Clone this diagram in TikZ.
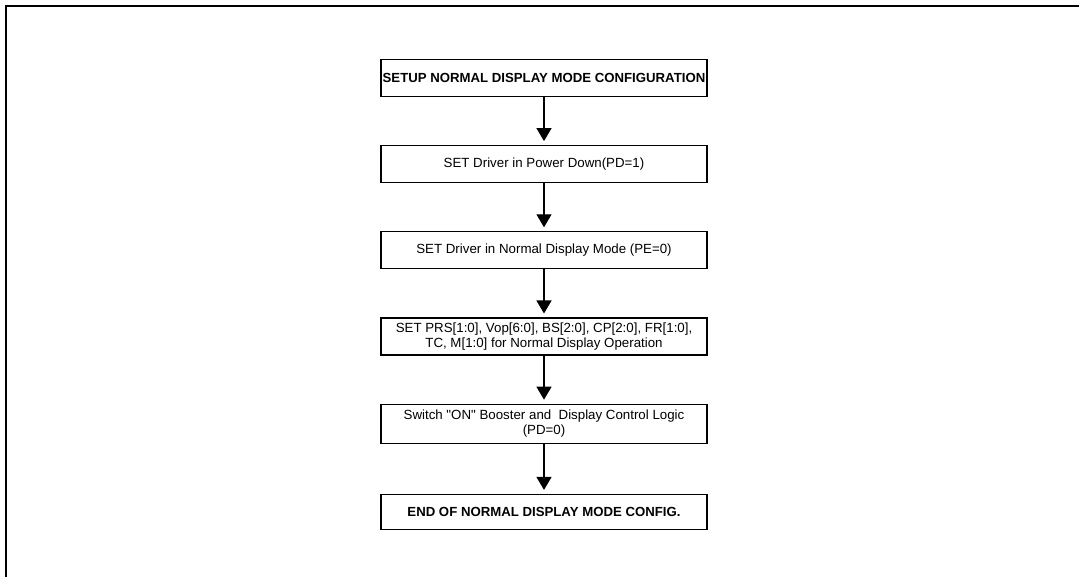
\documentclass[tikz,border=0pt]{standalone}
\usepackage{fontspec}
\setmainfont{Liberation Sans}
\usepackage{tikz}
\usetikzlibrary{arrows.meta,positioning}

\begin{document}
\begin{tikzpicture}[x=1pt,y=-1pt,>={Triangle[width=15pt,length=13pt]},
 line cap=butt,line join=miter,node distance=48pt,
 flowbox/.style={draw,line width=1.2pt,minimum width=326pt,minimum height=37pt,
  inner sep=0pt,align=center,font=\fontsize{13.3}{15}\selectfont},
 titlebox/.style={flowbox,font=\fontsize{13.2}{15}\selectfont\bfseries},
 flowarrow/.style={->,line width=1.2pt,shorten >=4pt}]
 \useasboundingbox (0,0) rectangle (1080,577);
 % outer frame
 \draw[line width=2.2pt] (6,577) -- (6,6) -- (1079,6);
 \node[titlebox] (setup) at (544,78) {SETUP NORMAL DISPLAY MODE CONFIGURATION};
 \node[flowbox,below=of setup] (pwrdown) {SET Driver in Power Down(PD=1)};
 \node[flowbox,below=of pwrdown] (normmode) {SET Driver in Normal Display Mode (PE=0)};
 \node[flowbox,below=of normmode] (params)
  {SET PRS[1:0], Vop[6:0], BS[2:0], CP[2:0], FR[1:0],\\
   TC, M[1:0] for Normal Display Operation};
 \node[flowbox,minimum height=39pt,below=of params] (booster)
  {Switch \textquotedbl ON\textquotedbl{} Booster and\ \ Display Control Logic\\(PD=0)};
 \node[titlebox,minimum height=35pt,below=50pt of booster] (finish)
  {END OF NORMAL DISPLAY MODE CONFIG.};
 \draw[flowarrow] (setup) -- (pwrdown);
 \draw[flowarrow] (pwrdown) -- (normmode);
 \draw[flowarrow] (normmode) -- (params);
 \draw[flowarrow] (params) -- (booster);
 \draw[flowarrow] (booster) -- (finish);
\end{tikzpicture}
\end{document}
